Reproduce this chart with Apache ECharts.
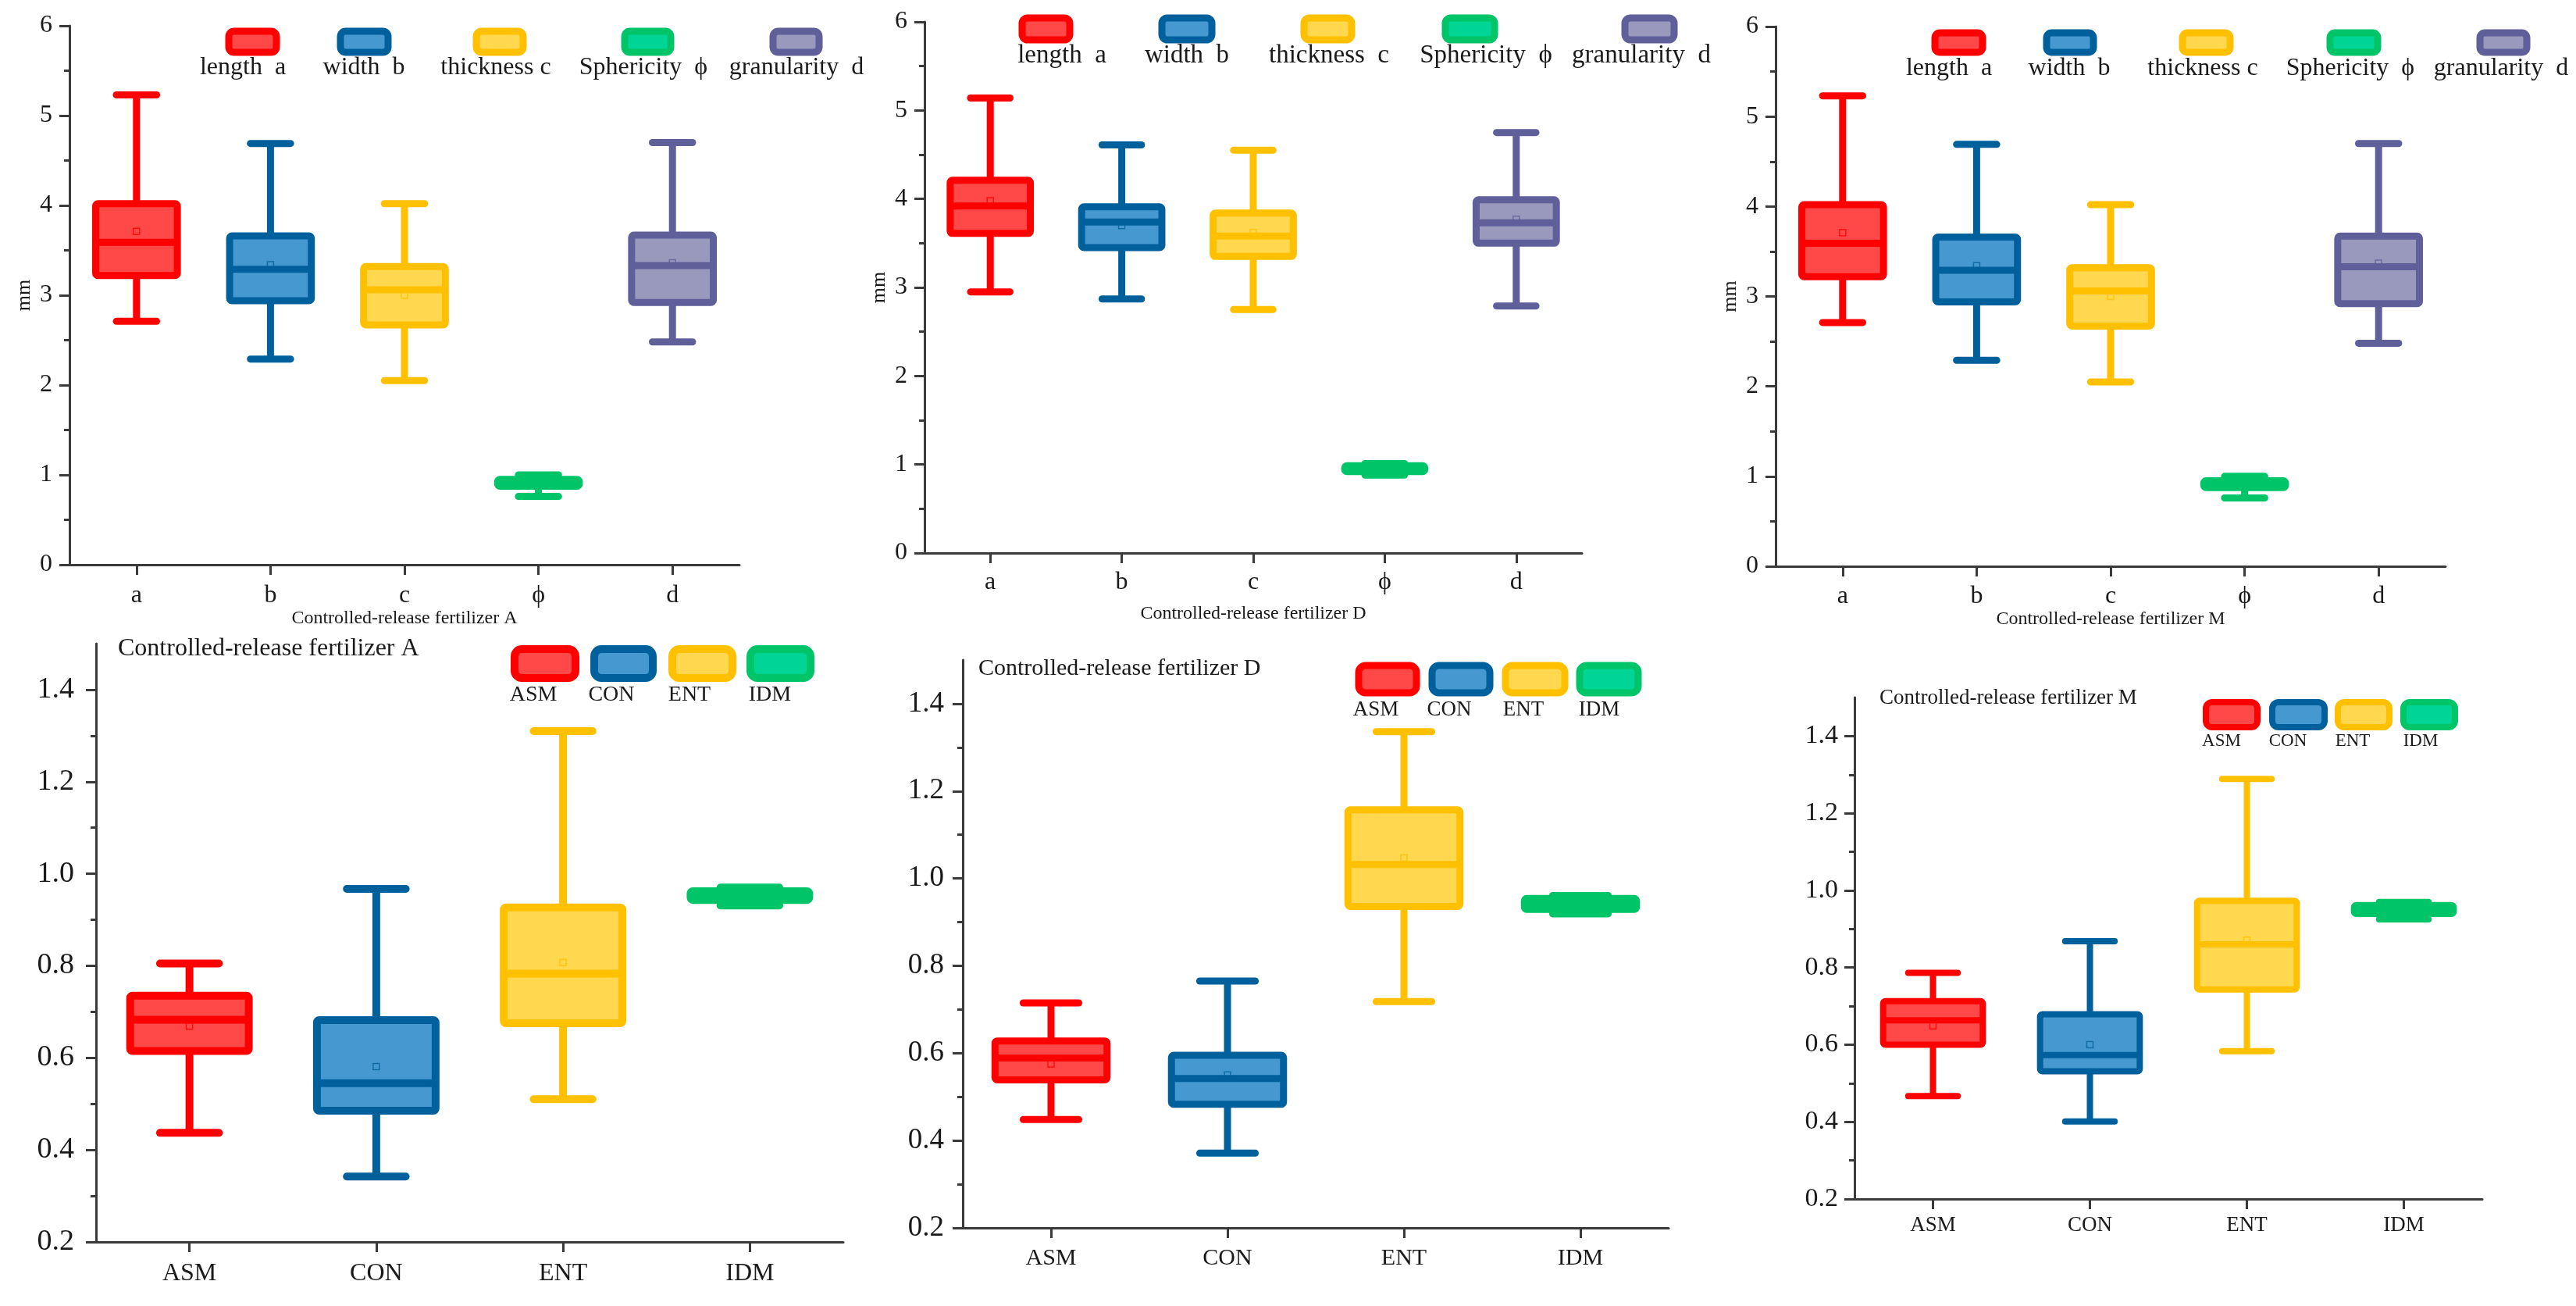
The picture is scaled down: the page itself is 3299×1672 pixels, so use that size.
<!DOCTYPE html>
<html>
<head>
<meta charset="utf-8">
<script src="https://cdn.jsdelivr.net/npm/echarts@6/dist/echarts.min.js"></script>
<style>
html,body{margin:0;padding:0;background:#fff;}
#chart{width:3299px;height:1672px;}
</style>
</head>
<body>
<div id="chart"></div>
<script>
// ---------------- DATA ----------------
const topCategories = ['a', 'b', 'c', 'ϕ', 'd'];
const topSeriesNames = ['length  a', 'width  b', 'thickness c', 'Sphericity  ϕ', 'granularity  d'];
const bottomCategories = ['ASM', 'CON', 'ENT', 'IDM'];
const topTickValues = [0, 1, 2, 3, 4, 5, 6];
const bottomTickValues = [0.2, 0.4, 0.6, 0.8, 1.0, 1.2, 1.4];

const legendLabelsTopA = ['length  a', 'width  b', 'thickness c', 'Sphericity  ϕ', 'granularity  d'];
const legendLabelsTopD = ['length  a', 'width  b', 'thickness  c', 'Sphericity  ϕ', 'granularity  d'];
const legendLabelsTopM = ['length  a', 'width  b', 'thickness c', 'Sphericity  ϕ', 'granularity  d'];

const titleA = 'Controlled-release fertilizer A';
const titleD = 'Controlled-release fertilizer D';
const titleM = 'Controlled-release fertilizer M';

// [min, Q1, median, Q3, max]
const topA_stats = [
  [2.71, 3.22, 3.59, 4.02, 5.23],
  [2.29, 2.94, 3.29, 3.66, 4.69],
  [2.05, 2.67, 3.06, 3.32, 4.02],
  [0.76, 0.875, 0.91, 0.95, 1.00],
  [2.48, 2.92, 3.33, 3.67, 4.70]
];
const topA_means = [3.71, 3.34, 3.00, 0.91, 3.36];

const topD_stats = [
  [2.95, 3.61, 3.92, 4.21, 5.14],
  [2.87, 3.45, 3.74, 3.91, 4.61],
  [2.75, 3.35, 3.58, 3.84, 4.55],
  [0.88, 0.92, 0.95, 0.985, 1.01],
  [2.79, 3.50, 3.73, 3.99, 4.75]
];
const topD_means = [3.98, 3.70, 3.62, 0.95, 3.77];

const topM_stats = [
  [2.71, 3.22, 3.59, 4.02, 5.23],
  [2.29, 2.94, 3.29, 3.66, 4.69],
  [2.05, 2.67, 3.06, 3.32, 4.02],
  [0.76, 0.875, 0.91, 0.95, 1.00],
  [2.48, 2.92, 3.33, 3.67, 4.70]
];
const topM_means = [3.71, 3.34, 3.00, 0.91, 3.37];

const bottomA_stats = [
  [0.437, 0.615, 0.683, 0.735, 0.805],
  [0.342, 0.485, 0.545, 0.682, 0.967],
  [0.510, 0.675, 0.783, 0.927, 1.310],
  [0.931, 0.943, 0.951, 0.962, 0.970]
];
const bottomA_means = [0.669, 0.581, 0.807, 0.951];

const bottomD_stats = [
  [0.448, 0.539, 0.589, 0.628, 0.715],
  [0.371, 0.483, 0.542, 0.595, 0.765],
  [0.718, 0.936, 1.032, 1.157, 1.336],
  [0.919, 0.929, 0.941, 0.954, 0.961]
];
const bottomD_means = [0.575, 0.550, 1.047, 0.940];

const bottomM_stats = [
  [0.467, 0.600, 0.663, 0.713, 0.786],
  [0.401, 0.531, 0.573, 0.679, 0.868],
  [0.583, 0.743, 0.860, 0.973, 1.289],
  [0.925, 0.939, 0.951, 0.962, 0.970]
];
const bottomM_means = [0.649, 0.600, 0.871, 0.950];

// ---------------- STYLE / LAYOUT ----------------
const COLORS = [
  { border: '#FF0000', fill: '#FF4848' },
  { border: '#00609C', fill: '#4699D0' },
  { border: '#FFC000', fill: '#FFD84F' },
  { border: '#00C468', fill: '#00D596' },
  { border: '#5F5F9A', fill: '#9999BD' }
];
const FONT = 'Liberation Serif';
const AXIS_COLOR = '#3a3a3a';
const TEXT_COLOR = '#1a1a1a';

const panels = [
  { kind: 'top', stats: topA_stats, means: topA_means, labels: legendLabelsTopA, xName: titleA,
    grid: { left: 89, top: 33, width: 858, height: 690 }, nameGap: 55, yNameGap: 45, lw: 9,
    labelFont: 32, catFont: 32, catMargin: 24, yLabelMargin: 22,
    legendBoxes: [[284, 31, 70, 36], [427, 31, 70, 36], [601, 31, 69, 36], [791, 31, 68, 36], [981, 31, 68, 36]],
    legendBw: 9, legendLabelY: 87, legendLabelX: [311, 466, 635, 824, 1020], legendFont: 32 },
  { kind: 'top', stats: topD_stats, means: topD_means, labels: legendLabelsTopD, xName: titleD,
    grid: { left: 1184, top: 28, width: 842, height: 680 }, nameGap: 66, yNameGap: 45, lw: 9,
    labelFont: 32, catFont: 32, catMargin: 22, yLabelMargin: 22,
    legendBoxes: [[1300, 14, 70, 37], [1479, 14, 73, 37], [1661, 14, 70, 37], [1842, 14, 72, 37], [2072, 14, 72, 37]],
    legendBw: 9, legendLabelY: 71, legendLabelX: [1360, 1520, 1702, 1903, 2102], legendFont: 33 },
  { kind: 'top', stats: topM_stats, means: topM_means, labels: legendLabelsTopM, xName: titleM,
    grid: { left: 2274, top: 34, width: 858, height: 691 }, nameGap: 54, yNameGap: 45, lw: 9,
    labelFont: 32, catFont: 32, catMargin: 23, yLabelMargin: 22,
    legendBoxes: [[2469, 33, 70, 34], [2612, 33, 69, 34], [2786, 33, 70, 34], [2975, 33, 70, 34], [3167, 33, 69, 34]],
    legendBw: 9, legendLabelY: 88, legendLabelX: [2496, 2650, 2821, 3010, 3203], legendFont: 32 },
  { kind: 'bottom', stats: bottomA_stats, means: bottomA_means, labels: bottomCategories, title: titleA,
    grid: { left: 123, top: 824, width: 957, height: 766 }, lw: 10,
    labelFont: 38, catFont: 32, catMargin: 25, yLabelMargin: 28,
    titlePos: [151, 815, 32],
    legendBoxes: [[649, 821, 88, 47], [751, 821, 85, 47], [851, 821, 87, 47], [951, 821, 87, 47]],
    legendBw: 10, legendLabelY: 890, legendLabelX: [683, 783, 883, 986], legendFont: 28 },
  { kind: 'bottom', stats: bottomD_stats, means: bottomD_means, labels: bottomCategories, title: titleD,
    grid: { left: 1233, top: 845, width: 904, height: 727 }, lw: 9,
    labelFont: 37, catFont: 30, catMargin: 24, yLabelMargin: 24,
    titlePos: [1253, 841, 30],
    legendBoxes: [[1731, 843, 83, 44], [1825, 843, 83, 44], [1919, 843, 85, 44], [2014, 843, 84, 44]],
    legendBw: 9, legendLabelY: 909, legendLabelX: [1762, 1856, 1951, 2048], legendFont: 27 },
  { kind: 'bottom', stats: bottomM_stats, means: bottomM_means, labels: bottomCategories, title: titleM,
    grid: { left: 2375, top: 893, width: 804, height: 642 }, lw: 8,
    labelFont: 34, catFont: 27, catMargin: 20, yLabelMargin: 21,
    titlePos: [2407, 880, 27],
    legendBoxes: [[2817, 891, 74, 40], [2902, 891, 75, 40], [2986, 891, 74, 40], [3070, 891, 74, 40]],
    legendBw: 8, legendLabelY: 949, legendLabelX: [2845, 2930, 3013, 3100], legendFont: 23 }
];

// ---------------- RENDER ----------------
function makeRender(lw, boxRatio, capRatio, border, fill) {
  return function (params, api) {
    const c = api.value(0);
    const pt = function (k) { return api.coord([c, api.value(k)]); };
    const pMin = pt(1), pQ1 = pt(2), pMed = pt(3), pQ3 = pt(4), pMax = pt(5), pMean = pt(6);
    const band = api.size([1, 0])[0];
    const x = pMin[0];
    const bh = band * boxRatio / 2, ch = band * capRatio / 2;
    function line(x1, y1, x2, y2, cap) {
      return { type: 'line', shape: { x1: x1, y1: y1, x2: x2, y2: y2 },
        style: { stroke: border, lineWidth: lw, lineCap: cap || 'round' } };
    }
    return {
      type: 'group',
      children: [
        line(x, pMax[1], x, pQ3[1], 'butt'),
        line(x, pQ1[1], x, pMin[1], 'butt'),
        line(x - ch, pMax[1], x + ch, pMax[1]),
        line(x - ch, pMin[1], x + ch, pMin[1]),
        { type: 'rect', shape: { x: x - bh, y: pQ3[1], width: 2 * bh, height: pQ1[1] - pQ3[1], r: 3 },
          style: { fill: fill, stroke: border, lineWidth: lw, lineJoin: 'round' } },
        line(x - bh, pMed[1], x + bh, pMed[1], 'butt'),
        { type: 'rect', shape: { x: pMean[0] - 4, y: pMean[1] - 4, width: 8, height: 8 },
          style: { fill: 'none', stroke: border, lineWidth: 1.5, opacity: 0.8 } }
      ]
    };
  };
}

const option = {
  backgroundColor: '#fff',
  animation: false,
  textStyle: { fontFamily: FONT },
  grid: [], xAxis: [], yAxis: [], series: [], legend: [], title: [], graphic: []
};

panels.forEach(function (p, pi) {
  const isTop = p.kind === 'top';
  const cats = isTop ? topCategories : bottomCategories;
  const names = isTop ? topSeriesNames : bottomCategories;
  option.grid.push(Object.assign({ containLabel: false }, p.grid));
  option.xAxis.push({
    type: 'category', gridIndex: pi, data: cats, boundaryGap: true,
    name: isTop ? p.xName : '', nameLocation: 'middle', nameGap: p.nameGap || 0,
    nameTextStyle: { fontFamily: FONT, fontSize: 24, color: TEXT_COLOR },
    axisLine: { show: true, lineStyle: { color: AXIS_COLOR, width: 3 } },
    axisTick: { show: true, alignWithLabel: true, interval: 0, length: 13, lineStyle: { color: AXIS_COLOR, width: 3 } },
    axisLabel: { fontFamily: FONT, fontSize: p.catFont, color: TEXT_COLOR, margin: p.catMargin, interval: 0 },
    splitLine: { show: false }
  });
  const ticks = isTop ? topTickValues : bottomTickValues;
  option.yAxis.push({
    type: 'value', gridIndex: pi,
    min: isTop ? 0 : 0.2, max: isTop ? 6 : 1.5, interval: isTop ? 1 : 0.2,
    name: isTop ? 'mm' : '', nameLocation: 'middle', nameGap: p.yNameGap || 0,
    nameTextStyle: { fontFamily: FONT, fontSize: 26, color: TEXT_COLOR },
    axisLine: { show: true, lineStyle: { color: AXIS_COLOR, width: 3 } },
    axisTick: { show: true, length: 13, customValues: ticks, lineStyle: { color: AXIS_COLOR, width: 3 } },
    minorTick: { show: true, splitNumber: 2, length: 7, lineStyle: { color: AXIS_COLOR, width: 3 } },
    axisLabel: { fontFamily: FONT, fontSize: p.labelFont, color: TEXT_COLOR, margin: p.yLabelMargin,
      customValues: ticks,
      formatter: function (v) { return isTop ? String(Math.round(v)) : Number(v).toFixed(1); } },
    splitLine: { show: false }, minorSplitLine: { show: false }
  });
  const boxRatio = isTop ? 0.61 : 0.635;
  const capRatio = isTop ? 0.30 : 0.315;
  p.stats.forEach(function (s, i) {
    const col = COLORS[i];
    option.series.push({
      type: 'custom', name: names[i], xAxisIndex: pi, yAxisIndex: pi,
      encode: { x: 0, y: [1, 2, 3, 4, 5] },
      clip: false,
      itemStyle: { color: col.fill, borderColor: col.border },
      renderItem: makeRender(p.lw, boxRatio, capRatio, col.border, col.fill),
      data: [[i, s[0], s[1], s[2], s[3], s[4], p.means[i]]]
    });
    const b = p.legendBoxes[i];
    const bw = p.legendBw;
    option.legend.push({
      show: true, data: [names[i]], left: b[0] + bw / 2, top: b[1] + bw / 2, padding: 0,
      icon: 'roundRect', itemWidth: b[2] - bw, itemHeight: b[3] - bw,
      selectedMode: false, formatter: function () { return ''; },
      itemStyle: { color: col.fill, borderColor: col.border, borderWidth: bw }
    });
    option.graphic.push({
      type: 'text', x: p.legendLabelX[i], y: p.legendLabelY, silent: true,
      style: { text: p.labels[i], font: p.legendFont + 'px "' + FONT + '"', fill: TEXT_COLOR,
        align: 'center', verticalAlign: 'middle', textAlign: 'center', textVerticalAlign: 'middle' }
    });
  });
  if (!isTop) {
    option.title.push({
      text: p.title, left: p.titlePos[0], top: p.titlePos[1], padding: 0,
      textStyle: { fontFamily: FONT, fontSize: p.titlePos[2], fontWeight: 'normal', color: TEXT_COLOR }
    });
  }
});

const chart = echarts.init(document.getElementById('chart'), null, { renderer: 'canvas', width: 3299, height: 1672 });
chart.setOption(option);
</script>
</body>
</html>
